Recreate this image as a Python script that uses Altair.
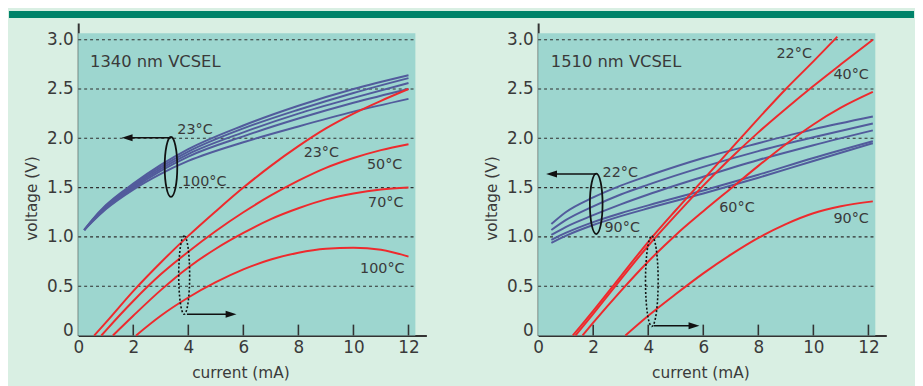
import altair as alt
import pandas as pd

# ---------------- values ----------------
X_TICKS = [0, 2, 4, 6, 8, 10, 12]
Y_TICKS = [0, 0.5, 1.0, 1.5, 2.0, 2.5, 3.0]
GRID_Y = [0.5, 1.0, 1.5, 2.0, 2.5, 3.0]
INNER_TICKS = [2, 4, 6, 8, 10, 12]

# Left panel: 1340 nm VCSEL -- voltage curves (blue)
L_BLUE_I = [0.22, 0.5, 1, 2, 3, 4, 6, 8, 10, 12]
L_BLUE_1 = [1.07, 1.17, 1.32, 1.54, 1.73, 1.89, 2.13, 2.33, 2.50, 2.64]
L_BLUE_2 = [1.07, 1.165, 1.31, 1.525, 1.71, 1.865, 2.10, 2.29, 2.46, 2.61]
L_BLUE_3 = [1.07, 1.16, 1.30, 1.51, 1.69, 1.84, 2.06, 2.25, 2.41, 2.56]
L_BLUE_4 = [1.07, 1.155, 1.29, 1.495, 1.67, 1.815, 2.02, 2.20, 2.36, 2.50]
L_BLUE_5 = [1.07, 1.15, 1.28, 1.48, 1.64, 1.77, 1.96, 2.12, 2.27, 2.40]
# Left panel -- output curves (red)
L_RED_23_I = [0.58, 1, 2, 3, 4, 5, 6, 7, 8, 9, 10, 11, 12]
L_RED_23_V = [0, 0.13, 0.45, 0.74, 1.01, 1.26, 1.5, 1.72, 1.92, 2.1, 2.25, 2.38, 2.5]
L_RED_50_I = [0.84, 1, 2, 3, 4, 5, 6, 7, 8, 9, 10, 11, 12]
L_RED_50_V = [0, 0.05, 0.35, 0.62, 0.85, 1.06, 1.25, 1.42, 1.57, 1.70, 1.80, 1.88, 1.94]
L_RED_70_I = [1.26, 2, 3, 4, 5, 6, 7, 8, 9, 10, 11, 12]
L_RED_70_V = [0, 0.2, 0.46, 0.69, 0.88, 1.04, 1.18, 1.29, 1.38, 1.44, 1.48, 1.50]
L_RED_100_I = [2.1, 3, 4, 5, 6, 7, 8, 9, 10, 11, 12]
L_RED_100_V = [0, 0.2, 0.385, 0.54, 0.67, 0.77, 0.84, 0.88, 0.89, 0.87, 0.80]

# Right panel: 1510 nm VCSEL -- voltage curves (blue)
R_BLUE_I = [0.48, 1, 2, 3, 4, 6, 8, 10, 12.16]
R_BLUE_1 = [1.13, 1.25, 1.40, 1.52, 1.62, 1.80, 1.95, 2.09, 2.22]
R_BLUE_2 = [1.07, 1.17, 1.31, 1.43, 1.53, 1.71, 1.87, 2.01, 2.15]
R_BLUE_3 = [1.02, 1.10, 1.22, 1.33, 1.43, 1.61, 1.78, 1.93, 2.08]
R_BLUE_4 = [0.97, 1.04, 1.15, 1.24, 1.32, 1.47, 1.63, 1.80, 1.97]
R_BLUE_5 = [0.94, 1.01, 1.12, 1.21, 1.29, 1.44, 1.60, 1.77, 1.95]
# Right panel -- output curves (red)
R_RED_22_I = [1.26, 2, 3, 4, 5, 6, 7, 8, 9, 10, 10.87]
R_RED_22_V = [0, 0.25, 0.6, 0.95, 1.27, 1.58, 1.89, 2.2, 2.5, 2.78, 3.03]
R_RED_40_I = [1.36, 2, 3, 4, 5, 6, 7, 8, 9, 10, 11, 12.16]
R_RED_40_V = [0, 0.22, 0.57, 0.91, 1.22, 1.52, 1.8, 2.06, 2.3, 2.53, 2.75, 3.0]
R_RED_60_I = [1.61, 2, 3, 4, 5, 6, 7, 8, 9, 10, 11, 12.16]
R_RED_60_V = [0, 0.13, 0.45, 0.75, 1.02, 1.26, 1.49, 1.72, 1.94, 2.14, 2.31, 2.47]
R_RED_90_I = [3.17, 4, 5, 6, 7, 8, 9, 10, 11, 12.16]
R_RED_90_V = [0, 0.2, 0.42, 0.63, 0.82, 0.99, 1.13, 1.24, 1.31, 1.36]

# Text labels (text, current mA at left edge, voltage at middle, font size)
L_LABELS = [
    ("1340 nm VCSEL", 0.43, 2.77, 16.5),
    ("23°C", 3.6, 2.08, 14.5),
    ("100°C", 3.77, 1.56, 14.5),
    ("23°C", 8.19, 1.85, 14.5),
    ("50°C", 10.49, 1.73, 14.5),
    ("70°C", 10.53, 1.345, 14.5),
    ("100°C", 10.24, 0.67, 14.5),
]
R_LABELS = [
    ("1510 nm VCSEL", 0.46, 2.77, 16.5),
    ("22°C", 8.66, 2.85, 14.5),
    ("40°C", 10.73, 2.64, 14.5),
    ("22°C", 2.34, 1.65, 14.5),
    ("90°C", 2.41, 1.085, 14.5),
    ("60°C", 6.58, 1.295, 14.5),
    ("90°C", 10.73, 1.18, 14.5),
]

# Ellipse markers: centre (mA, V), symbol size, dashed?
L_ELLIPSES = [(3.37, 1.709, 3672, False), (3.85, 0.612, 6241, True)]
R_ELLIPSES = [(2.11, 1.335, 3721, False), (4.13, 0.55, 8336, True)]

# Arrows: (from mA, to mA, at V, head tip mA, direction)
L_ARROWS = [(1.75, 3.37, 2.006, 1.58, "left"), (3.95, 5.55, 0.216, 5.75, "right")]
R_ARROWS = [(0.46, 2.11, 1.638, 0.29, "left"), (4.2, 5.66, 0.098, 5.86, "right")]

TEAL_RIGHT = 12.25
TEAL_TOP = 3.065

# ---------------- styling ----------------
BG = "#d9efe3"
TEAL = "#9dd6cf"
BAR = "#00836a"
BLUE = "#525b9c"
RED = "#ee2a2d"
INK = "#3a3a3a"
FONT = "DejaVu Sans"

SOLID_ELL = "M0,-1C0.116,-1 0.21,-0.552 0.21,0C0.21,0.552 0.116,1 0,1C-0.116,1 -0.21,0.552 -0.21,0C-0.21,-0.552 -0.116,-1 0,-1Z"
DASH_ELL = "M0,-1C0.077,-1 0.14,-0.552 0.14,0C0.14,0.552 0.077,1 0,1C-0.077,1 -0.14,0.552 -0.14,0C-0.14,-0.552 -0.077,-1 0,-1Z"
HEAD_LEFT = "M0,0L2,-0.65L2,0.65Z"
HEAD_RIGHT = "M0,0L-2,-0.65L-2,0.65Z"

XS = alt.Scale(domain=[0, 12.65], nice=False, zero=False)
YS = alt.Scale(domain=[0, 3.17], nice=False, zero=False)

XAX = alt.Axis(
    values=X_TICKS, format="d", title="current (mA)", grid=False, ticks=False,
    domainColor="#333333", domainWidth=2, labelFontSize=17, labelColor=INK,
    labelFont=FONT, labelPadding=4, labelFlush=False, labelOverlap=False,
    titleX=164, titleY=42.5, titleAlign="center", titleBaseline="alphabetic",
    titleFontSize=15.5, titleFontWeight="normal", titleColor=INK, titleFont=FONT,
)
YAX = alt.Axis(
    values=Y_TICKS, labelExpr="datum.value == 0 ? '0' : format(datum.value, '.1f')",
    title="voltage (V)", grid=False, ticks=False, domainColor="#333333",
    domainWidth=2, labelFontSize=17, labelColor=INK, labelFont=FONT,
    labelPadding=5, labelOverlap=False,
    labelBaseline={"condition": {"test": "datum.value == 0", "value": "alphabetic"}, "value": "middle"},
    titleX=-47, titleY=177, titleAlign="center", titleBaseline="middle",
    titleFontSize=15.5, titleFontWeight="normal", titleColor=INK, titleFont=FONT,
)


def X(f):
    return alt.X(f, type="quantitative", scale=XS, axis=XAX)


def Y(f):
    return alt.Y(f, type="quantitative", scale=YS, axis=YAX)


def curves(pairs):
    frames = []
    for k, (xs, ys) in enumerate(pairs):
        frames.append(pd.DataFrame({"x": xs, "y": ys, "s": k}))
    return pd.concat(frames, ignore_index=True)


def panel(blue_i, blues, reds, labels, ellipses, arrows, with_bar):
    teal = alt.Chart(pd.DataFrame({"x": [0], "x2": [TEAL_RIGHT], "y": [0], "y2": [TEAL_TOP]})).mark_rect(
        color=TEAL).encode(x=X("x"), x2="x2", y=Y("y"), y2="y2")
    grid = alt.Chart(pd.DataFrame({"y": GRID_Y, "x": 0, "x2": TEAL_RIGHT})).mark_rule(
        color="#2f2f2f", strokeDash=[3, 3], strokeWidth=1.1).encode(x=X("x"), x2="x2", y=Y("y"))
    ticks = alt.Chart(pd.DataFrame({"x": INNER_TICKS, "y": 0, "y2": 0.11})).mark_rule(
        color="#333333", strokeWidth=1.6).encode(x=X("x"), y=Y("y"), y2="y2")
    blue = alt.Chart(curves([(blue_i, b) for b in blues])).mark_line(
        color=BLUE, strokeWidth=2, interpolate="monotone").encode(x=X("x"), y=Y("y"), detail="s:N")
    red = alt.Chart(curves(reds)).mark_line(
        color=RED, strokeWidth=2, interpolate="monotone").encode(x=X("x"), y=Y("y"), detail="s:N")

    ell_solid = pd.DataFrame([dict(x=e[0], y=e[1], size=e[2]) for e in ellipses if not e[3]])
    ell_dash = pd.DataFrame([dict(x=e[0], y=e[1], size=e[2]) for e in ellipses if e[3]])
    e1 = alt.Chart(ell_solid).mark_point(shape=SOLID_ELL, filled=False, stroke="#111111",
                                         strokeWidth=1.8, opacity=1).encode(
        x=X("x"), y=Y("y"), size=alt.Size("size:Q", scale=None, legend=None))
    e2 = alt.Chart(ell_dash).mark_point(shape=DASH_ELL, filled=False, stroke="#111111",
                                        strokeWidth=1.6, strokeDash=[2, 2], opacity=1).encode(
        x=X("x"), y=Y("y"), size=alt.Size("size:Q", scale=None, legend=None))

    arr = pd.DataFrame([dict(x=a[0], x2=a[1], y=a[2]) for a in arrows])
    shafts = alt.Chart(arr).mark_rule(color="#111111", strokeWidth=1.6).encode(
        x=X("x"), x2="x2", y=Y("y"))
    hl = pd.DataFrame([dict(x=a[3], y=a[2]) for a in arrows if a[4] == "left"])
    hr = pd.DataFrame([dict(x=a[3], y=a[2]) for a in arrows if a[4] == "right"])
    head_l = alt.Chart(hl).mark_point(shape=HEAD_LEFT, filled=True, size=121, color="#111111",
                                      opacity=1, strokeWidth=0).encode(x=X("x"), y=Y("y"))
    head_r = alt.Chart(hr).mark_point(shape=HEAD_RIGHT, filled=True, size=121, color="#111111",
                                      opacity=1, strokeWidth=0).encode(x=X("x"), y=Y("y"))

    lab = pd.DataFrame([dict(t=l[0], x=l[1], y=l[2], fs=l[3]) for l in labels])
    texts = alt.Chart(lab).mark_text(align="left", baseline="middle", font=FONT, color=INK).encode(
        x=X("x"), y=Y("y"), text="t:N", size=alt.Size("fs:Q", scale=None, legend=None))

    layers = [teal, grid, ticks, blue, red, e1, e2, shafts, head_l, head_r, texts]
    if with_bar:
        bar = alt.Chart(pd.DataFrame({"a": [0]})).mark_rect(color=BAR).encode(
            x=alt.value(-70), x2=alt.value(845), y=alt.value(-12), y2=alt.value(-5))
        layers.append(bar)
    return alt.layer(*layers).properties(width=352, height=316)


left = panel(
    L_BLUE_I, [L_BLUE_1, L_BLUE_2, L_BLUE_3, L_BLUE_4, L_BLUE_5],
    [(L_RED_23_I, L_RED_23_V), (L_RED_50_I, L_RED_50_V), (L_RED_70_I, L_RED_70_V), (L_RED_100_I, L_RED_100_V)],
    L_LABELS, L_ELLIPSES, L_ARROWS, True)
right = panel(
    R_BLUE_I, [R_BLUE_1, R_BLUE_2, R_BLUE_3, R_BLUE_4, R_BLUE_5],
    [(R_RED_22_I, R_RED_22_V), (R_RED_40_I, R_RED_40_V), (R_RED_60_I, R_RED_60_V), (R_RED_90_I, R_RED_90_V)],
    R_LABELS, R_ELLIPSES, R_ARROWS, False)

chart = alt.hconcat(left, right, spacing=113, bounds="flush").properties(
    padding={"left": 0, "top": 0, "right": 0, "bottom": 3}
).configure(background=BG, font=FONT).configure_view(stroke="transparent")

chart.save("out.html", embed_options={"renderer": "svg", "actions": False})
